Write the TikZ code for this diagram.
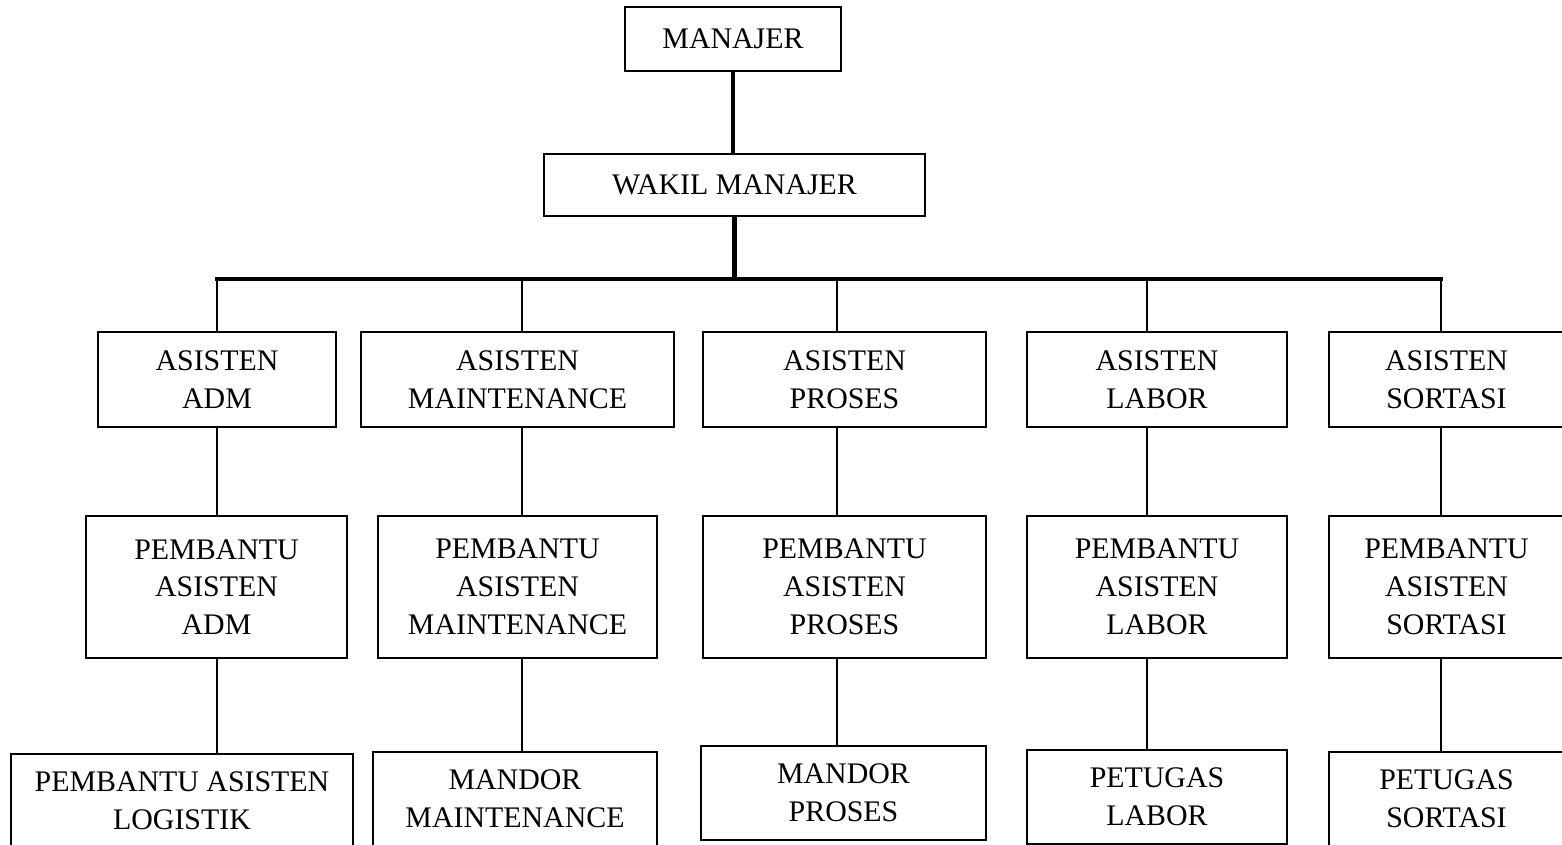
\documentclass[tikz,border=0pt]{standalone}
\usepackage{fontspec}
\setmainfont{Liberation Serif}
\usetikzlibrary{positioning}

\begin{document}
\begin{tikzpicture}[every node/.style={font=\fontsize{17}{21.5}\selectfont},
  box/.style={draw,line width=1pt,align=center,inner sep=0pt},
  link/.style={line width=0.9pt},
  bus/.style={line width=2.3pt}]
\useasboundingbox (0,0) rectangle (31.24,-16.9);
\clip (0,0) rectangle (31.24,-16.9);
\node[box,minimum width=4.32cm,minimum height=1.28cm] (manajer) at (14.66,-0.78) {MANAJER};
\node[box,minimum width=7.62cm,minimum height=1.24cm] (wakil) at (14.69,-3.70) {WAKIL MANAJER};
% asisten
\node[box,minimum width=4.76cm,minimum height=1.90cm] (asAdm) at (4.34,-7.59) {ASISTEN\\ADM};
\node[box,minimum width=6.26cm,minimum height=1.90cm] (asMnt) at (10.35,-7.59) {ASISTEN\\MAINTENANCE};
\node[box,minimum width=5.66cm,minimum height=1.90cm] (asPrs) at (16.89,-7.59) {ASISTEN\\PROSES};
\node[box,minimum width=5.20cm,minimum height=1.90cm] (asLab) at (23.14,-7.59) {ASISTEN\\LABOR};
\node[box,minimum width=4.70cm,minimum height=1.90cm] (asSrt) at (28.93,-7.59) {ASISTEN\\SORTASI};
% pembantu asisten
\node[box,minimum width=5.22cm,minimum height=2.84cm] (pbAdm) at (4.33,-11.74) {PEMBANTU\\ASISTEN\\ADM};
\node[box,minimum width=5.58cm,minimum height=2.84cm] (pbMnt) at (10.35,-11.74) {PEMBANTU\\ASISTEN\\MAINTENANCE};
\node[box,minimum width=5.66cm,minimum height=2.84cm] (pbPrs) at (16.89,-11.74) {PEMBANTU\\ASISTEN\\PROSES};
\node[box,minimum width=5.20cm,minimum height=2.84cm] (pbLab) at (23.14,-11.74) {PEMBANTU\\ASISTEN\\LABOR};
\node[box,minimum width=4.70cm,minimum height=2.84cm] (pbSrt) at (28.93,-11.74) {PEMBANTU\\ASISTEN\\SORTASI};
% bawah
\node[box,minimum width=6.84cm,minimum height=1.88cm] (logistik) at (3.64,-16.02) {PEMBANTU ASISTEN\\LOGISTIK};
\node[box,minimum width=5.68cm,minimum height=1.88cm] (mdMnt) at (10.30,-15.98) {MANDOR\\MAINTENANCE};
\node[box,minimum width=5.70cm,minimum height=1.88cm] (mdPrs) at (16.87,-15.86) {MANDOR\\PROSES};
\node[box,minimum width=5.20cm,minimum height=1.88cm] (ptLab) at (23.14,-15.94) {PETUGAS\\LABOR};
\node[box,minimum width=4.70cm,minimum height=1.88cm] (ptSrt) at (28.93,-15.98) {PETUGAS\\SORTASI};
% garis
\coordinate (b1) at (4.34,-5.58);
\coordinate (b2) at (10.44,-5.58);
\coordinate (b3) at (16.74,-5.58);
\coordinate (b4) at (22.94,-5.58);
\coordinate (b5) at (28.82,-5.58);
\draw[bus] (manajer.south) -- (manajer.south |- wakil.north);
\draw[bus] (wakil.south) -- (wakil.south |- b1);
\draw[bus,line cap=rect] (b1) -- (b5);
\foreach \c/\a/\p/\m in {b1/asAdm/pbAdm/logistik,b2/asMnt/pbMnt/mdMnt,b3/asPrs/pbPrs/mdPrs,b4/asLab/pbLab/ptLab,b5/asSrt/pbSrt/ptSrt}{
  \draw[link] (\c) -- (\c |- \a.north);
  \draw[link] (\c |- \a.south) -- (\c |- \p.north);
  \draw[link] (\c |- \p.south) -- (\c |- \m.north);
}
\end{tikzpicture}
\end{document}
